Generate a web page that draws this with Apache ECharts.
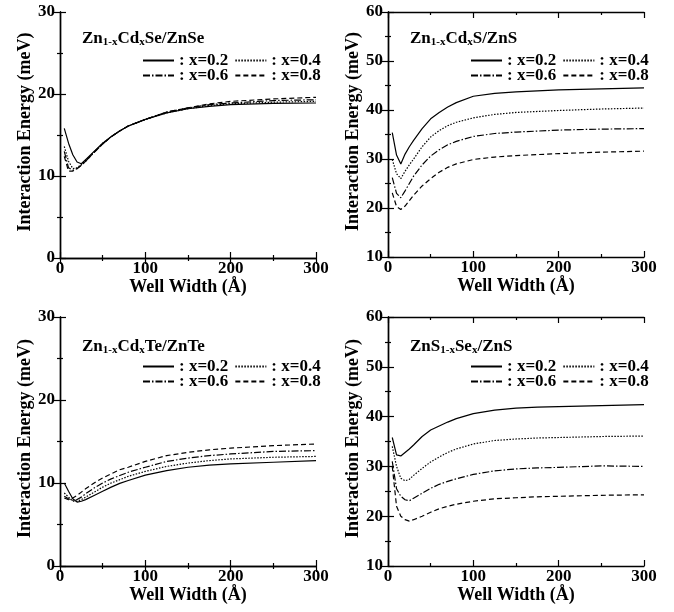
<!DOCTYPE html>
<html><head><meta charset="utf-8">
<script src="https://cdn.jsdelivr.net/npm/echarts@6/dist/echarts.min.js"></script>
<style>html,body{margin:0;padding:0;background:#fff}#c{width:674px;height:612px}</style>
</head><body><div id="c"></div>
<script>
// Well widths (Å)
const wells = [5,10,15,20,25,30,40,50,60,70,80,100,125,150,175,200,250,300];
const seriesNames = ['x=0.2','x=0.4','x=0.6','x=0.8'];

// Zn1-xCdxSe/ZnSe
const cdSe02 = [15.8,14.0,12.6,11.7,11.5,12.0,13.0,14.0,14.8,15.5,16.1,16.9,17.7,18.2,18.5,18.7,18.85,18.9];
const cdSe04 = [13.6,11.8,10.9,11.0,11.4,11.9,12.9,14.0,14.8,15.5,16.1,16.9,17.7,18.2,18.6,18.8,19.0,19.1];
const cdSe06 = [13.0,11.0,10.7,10.9,11.3,11.8,12.9,13.9,14.8,15.5,16.1,16.9,17.8,18.3,18.7,18.9,19.2,19.3];
const cdSe08 = [12.4,10.6,10.6,10.9,11.3,11.8,12.9,13.9,14.8,15.5,16.1,16.9,17.8,18.3,18.8,19.1,19.4,19.6];

// Zn1-xCdxS/ZnS
const cdS02 = [35.4,30.8,29.0,31.0,32.5,33.8,36.2,38.2,39.5,40.6,41.5,42.8,43.4,43.7,43.9,44.1,44.3,44.5];
const cdS04 = [29.9,27.0,26.0,27.5,28.8,30.0,32.5,34.5,35.8,36.8,37.5,38.4,39.1,39.5,39.7,39.9,40.2,40.4];
const cdS06 = [26.2,23.0,22.1,23.5,25.0,26.5,28.8,30.6,31.9,32.9,33.6,34.6,35.2,35.5,35.7,35.9,36.1,36.2];
const cdS08 = [23.1,20.3,19.7,20.4,21.5,22.6,24.5,26.0,27.3,28.3,29.0,29.9,30.4,30.7,30.9,31.1,31.4,31.6];

// Zn1-xCdxTe/ZnTe
const cdTe02 = [10.0,9.0,8.1,7.7,7.8,8.0,8.5,9.0,9.5,9.95,10.3,10.95,11.5,11.9,12.15,12.3,12.5,12.7];
const cdTe04 = [8.8,8.3,7.8,7.8,8.0,8.3,8.9,9.5,10.0,10.4,10.8,11.4,12.0,12.4,12.7,12.9,13.1,13.2];
const cdTe06 = [8.4,8.1,7.9,8.0,8.3,8.7,9.4,10.0,10.5,10.9,11.3,11.9,12.6,13.0,13.3,13.5,13.8,13.9];
const cdTe08 = [8.2,8.0,8.2,8.5,8.9,9.3,10.0,10.6,11.1,11.6,11.9,12.6,13.3,13.7,14.0,14.2,14.5,14.7];

// ZnS1-xSex/ZnS
const sSe02 = [35.8,32.3,32.1,32.8,33.5,34.3,36.0,37.3,38.1,38.9,39.6,40.6,41.3,41.7,41.9,42.0,42.2,42.4];
const sSe04 = [34.0,30.0,27.6,27.1,27.4,28.2,29.6,30.9,31.9,32.8,33.5,34.5,35.2,35.5,35.7,35.8,36.0,36.1];
const sSe06 = [31.0,25.5,24.0,23.3,23.1,23.6,24.6,25.6,26.4,27.0,27.5,28.4,29.1,29.5,29.7,29.8,30.1,30.0];
const sSe08 = [30.0,22.0,20.0,19.3,19.0,19.3,20.0,20.8,21.5,22.0,22.4,23.0,23.5,23.7,23.9,24.0,24.2,24.3];

const panelData = [
  [cdSe02,cdSe04,cdSe06,cdSe08],
  [cdS02,cdS04,cdS06,cdS08],
  [cdTe02,cdTe04,cdTe06,cdTe08],
  [sSe02,sSe04,sSe06,sSe08]
];
const yMins = [0,10,0,10];
const yMaxs = [30,60,30,60];
const titleTexts = [
  '{n|Zn}{s|1-x}{n|Cd}{s|x}{n|Se/ZnSe}',
  '{n|Zn}{s|1-x}{n|Cd}{s|x}{n|S/ZnS}',
  '{n|Zn}{s|1-x}{n|Cd}{s|x}{n|Te/ZnTe}',
  '{n|ZnS}{s|1-x}{n|Se}{s|x}{n|/ZnS}'
];

const FONT = '"Liberation Serif", "Times New Roman", serif';
const lineTypes = ['solid',[1.5,1.5],[7,2,1.5,2],[5,3]];

const grids = [
  {left:60,top:12,width:256,height:246},
  {left:388,top:12,width:256,height:245},
  {left:60,top:317,width:256,height:249},
  {left:388,top:317,width:256,height:249}
];

const axisLine = {show:true,lineStyle:{color:'#000',width:1.4}};
const tick = {show:true,inside:true,length:6,lineStyle:{color:'#000',width:1.2}};
const minor = {show:true,splitNumber:2,length:3,lineStyle:{color:'#000',width:1.2}};
const labelStyle = {color:'#000',fontFamily:FONT,fontSize:17,fontWeight:'bold'};

const xAxes = [], yAxes = [], series = [], titles = [], legends = [];
grids.forEach((g,i)=>{
  xAxes.push({type:'value',gridIndex:i,position:'bottom',min:0,max:300,interval:100,
    axisLine,axisTick:tick,minorTick:minor,splitLine:{show:false},
    axisLabel:Object.assign({margin:2},labelStyle),
    name:'Well Width (Å)',nameLocation:'middle',nameGap:19,
    nameTextStyle:{color:'#000',fontFamily:FONT,fontSize:18,fontWeight:'bold'}});
  xAxes.push({type:'value',gridIndex:i,position:'top',min:0,max:300,interval:100,
    axisLine,axisTick:tick,minorTick:minor,splitLine:{show:false},axisLabel:{show:false}});
  yAxes.push({type:'value',gridIndex:i,position:'left',min:yMins[i],max:yMaxs[i],interval:10,
    axisLine,axisTick:tick,minorTick:minor,splitLine:{show:false},
    axisLabel:Object.assign({margin:5},labelStyle),
    name:'Interaction Energy (meV)',nameLocation:'middle',nameGap:26,
    nameTextStyle:{color:'#000',fontFamily:FONT,fontSize:18,fontWeight:'bold',padding:[0,0,0,6]}});
  yAxes.push({type:'value',gridIndex:i,position:'right',min:yMins[i],max:yMaxs[i],interval:10,
    axisLine,axisTick:tick,minorTick:minor,splitLine:{show:false},axisLabel:{show:false}});
  panelData[i].forEach((vals,k)=>{
    series.push({type:'line',name:seriesNames[k],xAxisIndex:2*i,yAxisIndex:2*i,
      symbol:'none',smooth:false,animation:false,clip:true,
      itemStyle:{color:'#000'},
      lineStyle:{color:'#000',width:1.2,type:lineTypes[k]},
      data:wells.map((w,j)=>[w,vals[j]])});
  });
  titles.push({text:titleTexts[i],left:g.left+17,top:g.top+(i<2?12:15),
    textStyle:{rich:{
      n:{fontFamily:FONT,fontSize:17,fontWeight:'bold',color:'#000'},
      s:{fontFamily:FONT,fontSize:11,fontWeight:'bold',color:'#000',verticalAlign:'bottom',padding:[8,0,0,0]}
    }}});
  const lx = g.left + 82;
  const ly = g.top + (i<2 ? 40 : 41);
  [[0,1],[2,3]].forEach((pair,r)=>{
    legends.push({left:lx,top:ly+r*15,orient:'horizontal',itemWidth:31,itemHeight:10,itemGap:6,
      padding:0,selectedMode:false,
      itemStyle:{opacity:0},
      data:pair.map(p=>seriesNames[p]),formatter:': {name}',
      textStyle:{color:'#000',fontFamily:FONT,fontSize:17,fontWeight:'bold'}});
  });
});

const chart = echarts.init(document.getElementById('c'),null,{renderer:'canvas'});
chart.setOption({animation:false,backgroundColor:'#fff',grid:grids,xAxis:xAxes,yAxis:yAxes,series,title:titles,legend:legends});
</script></body></html>
